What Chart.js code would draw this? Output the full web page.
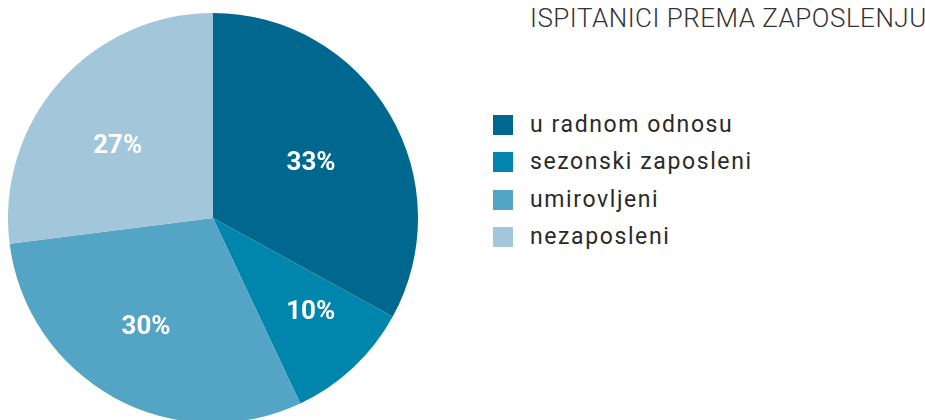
<!DOCTYPE html>
<html>
<head>
<meta charset="utf-8">
<script src="https://cdn.jsdelivr.net/npm/chart.js@4"></script>
<style>
  html, body { margin: 0; padding: 0; background: #fff; overflow: hidden; width: 925px; height: 420px; }
  #pieBox { position: absolute; left: 8px; top: 13px; width: 410px; height: 410px; }
  #title { position: absolute; left: 530px; top: 3px; font-family: Roboto, sans-serif; font-weight: 300; font-size: 26px; color: #333; white-space: nowrap; letter-spacing: 0.5px; }
  #legend { position: absolute; left: 493px; top: 113px; font-family: Roboto, sans-serif; font-size: 23px; color: #2a2a2a; }
  .row { height: 37.3px; display: flex; align-items: flex-start; }
  .sw { width: 20px; height: 20px; margin-top: 2px; margin-right: 17px; }
  .lbl { line-height: 24px; white-space: nowrap; letter-spacing: 1.6px; }
</style>
</head>
<body>
<div id="title">ISPITANICI PREMA ZAPOSLENJU</div>
<div id="legend"></div>
<div id="pieBox"><canvas id="myChart"></canvas></div>
<script>
const title = 'ISPITANICI PREMA ZAPOSLENJU';
const categories = ['u radnom odnosu', 'sezonski zaposleni', 'umirovljeni', 'nezaposleni'];
const shares = [33, 10, 30, 27];
const colours = ['rgb(0, 104, 143)', 'rgb(0, 134, 173)', 'rgb(84, 164, 197)', 'rgb(162, 198, 218)'];

// legend built from the same arrays
let legend = document.getElementById('legend');
categories.forEach(function(name, i) {
    let row = document.createElement('div');
    row.className = 'row';
    row.innerHTML = '<div class="sw" style="background:' + colours[i] + '"></div><div class="lbl"></div>';
    row.querySelector('.lbl').textContent = name;
    legend.appendChild(row);
});
document.getElementById('title').textContent = title;

// percent labels inside slices (radius factor / angle nudge per slice)
const labelRadius = [0.55, 0.66, 0.62, 0.585];
const labelNudge = [1, -3, 3, -4]; // degrees
const sliceLabels = {
    id: 'sliceLabels',
    afterDatasetsDraw(chart) {
        const ctx = chart.ctx;
        const meta = chart.getDatasetMeta(0);
        ctx.save();
        ctx.fillStyle = '#fff';
        ctx.font = 'bold 26px Roboto, sans-serif';
        ctx.textAlign = 'center';
        ctx.textBaseline = 'middle';
        meta.data.forEach(function(arc, i) {
            const p = arc.getProps(['x', 'y', 'startAngle', 'endAngle', 'outerRadius'], true);
            const mid = (p.startAngle + p.endAngle) / 2 + labelNudge[i] * Math.PI / 180;
            const r = p.outerRadius * labelRadius[i];
            ctx.fillText(shares[i] + '%', p.x + Math.cos(mid) * r, p.y + Math.sin(mid) * r + 1);
        });
        ctx.restore();
    }
};

window.addEventListener('load', function() {
    let ctx = document.getElementById('myChart').getContext('2d');
    new Chart(ctx, {
        type: 'pie',
        data: {
            labels: categories,
            datasets: [{
                data: shares,
                backgroundColor: colours,
                borderWidth: 0
            }]
        },
        options: {
            responsive: true,
            maintainAspectRatio: false,
            animation: false,
            layout: { padding: 0 },
            plugins: {
                legend: { display: false },
                tooltip: { enabled: false }
            }
        },
        plugins: [sliceLabels]
    });
});
</script>
</body>
</html>
